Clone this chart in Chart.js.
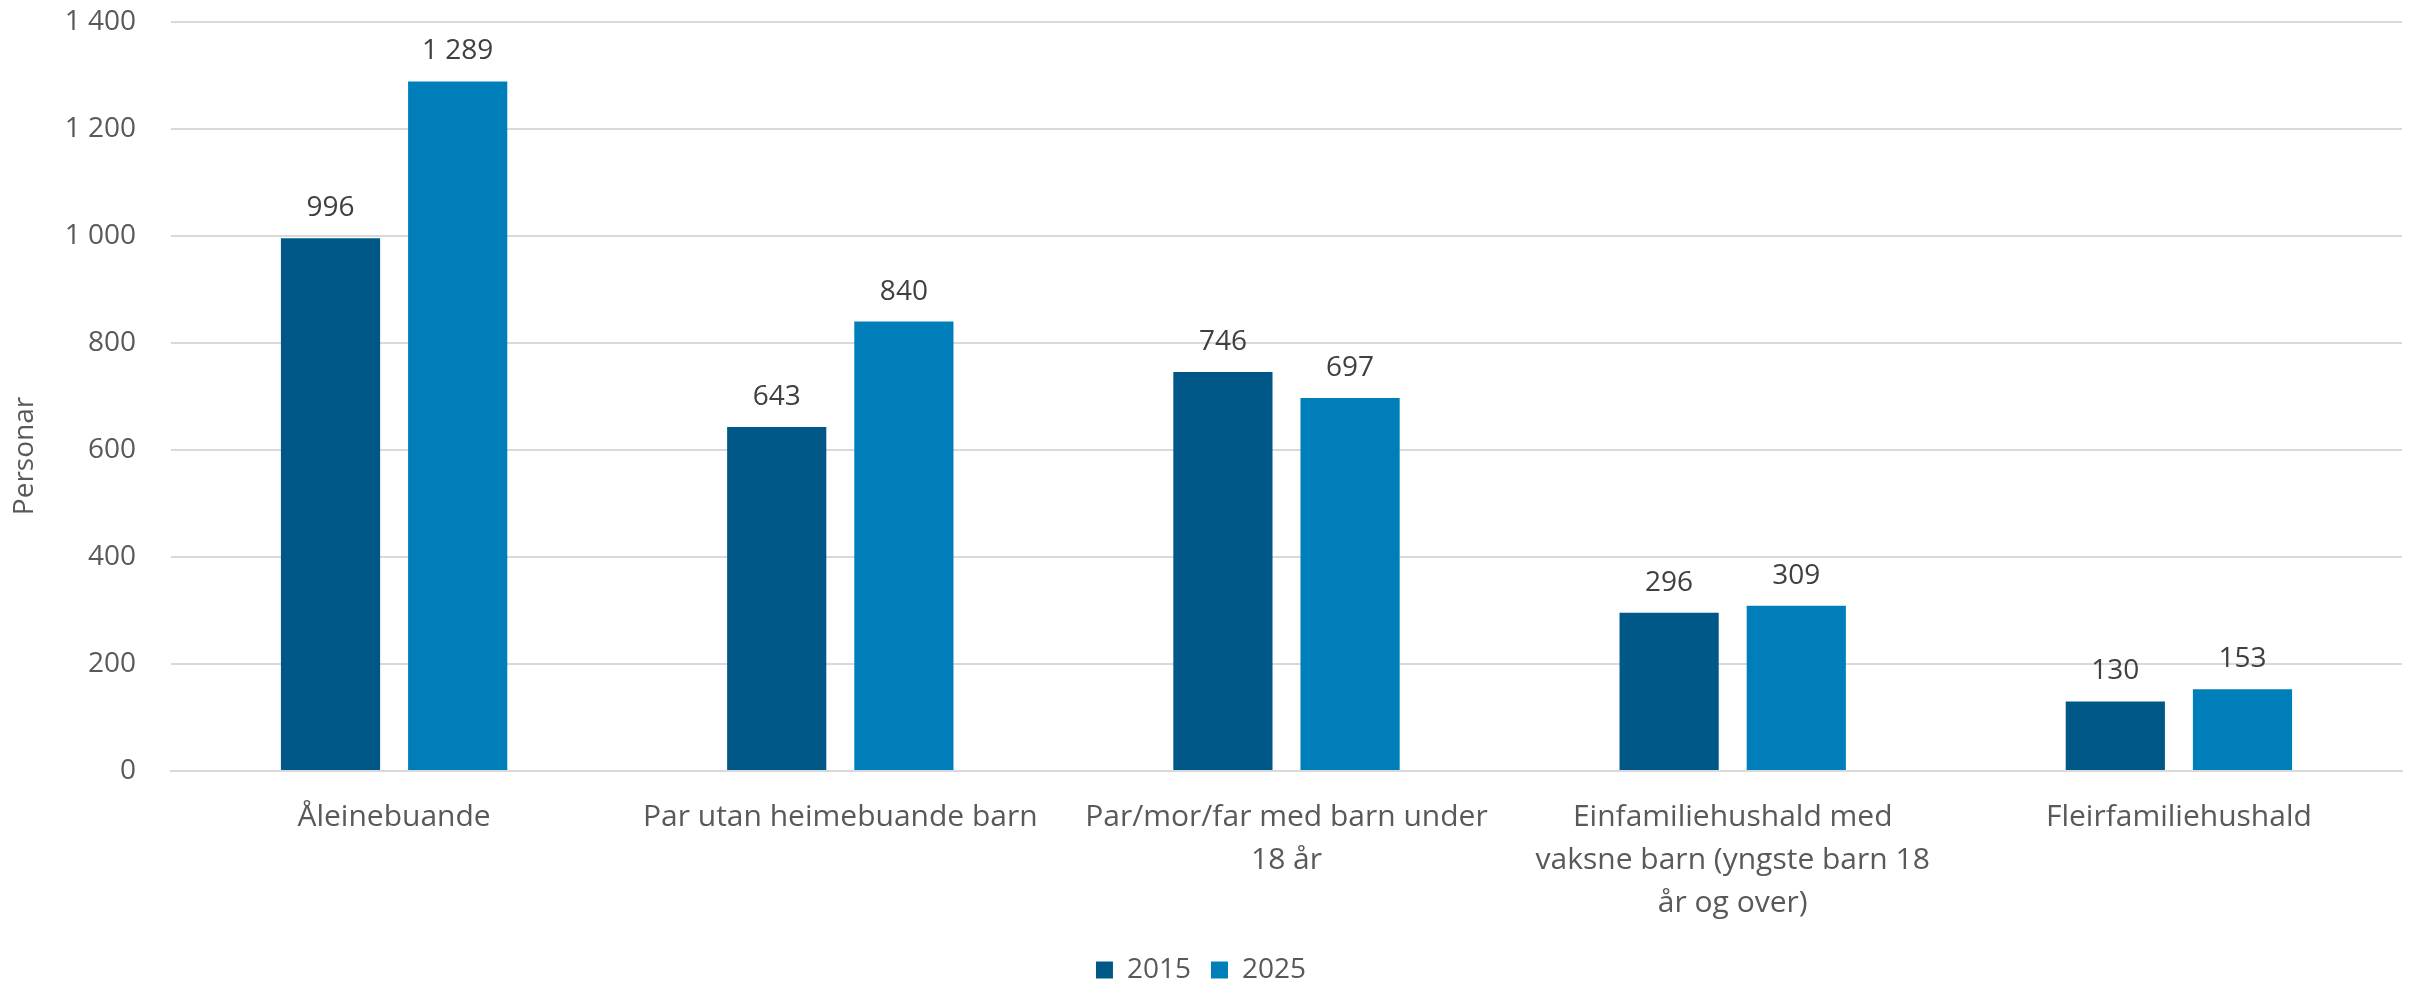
<!DOCTYPE html>
<html>
<head>
<meta charset="utf-8">
<script src="https://cdn.jsdelivr.net/npm/chart.js@4.4.1/dist/chart.umd.min.js"></script>
<style>
  html, body { margin: 0; padding: 0; background: #fff; }
  #wrap { width: 2418px; height: 983px; position: relative; }
</style>
</head>
<body>
<div id="wrap"><canvas id="hushald"></canvas></div>
<script>
// kategoriar og tal (personar)
const categories = [
    'Åleinebuande',
    'Par utan heimebuande barn',
    ['Par/mor/far med barn under', '18 år'],
    ['Einfamiliehushald med', 'vaksne barn (yngste barn 18', 'år og over)'],
    'Fleirfamiliehushald'
];
const values2015 = [996, 643, 746, 296, 130];
const values2025 = [1289, 840, 697, 309, 153];
const seriesNames = ['2015', '2025'];
const yTicks = [0, 200, 400, 600, 800, 1000, 1200, 1400];

const fmt = v => String(v).replace(/\B(?=(\d{3})+(?!\d))/g, ' ');

Chart.defaults.font.family = "'Open Sans', 'Noto Sans', sans-serif";
Chart.defaults.font.size = 28;
Chart.defaults.color = '#595959';

// verdiar over stolpane
const valueLabels = {
    id: 'valueLabels',
    afterDatasetsDraw(chart) {
        const ctx = chart.ctx;
        ctx.save();
        ctx.font = "28px 'Open Sans', 'Noto Sans', sans-serif";
        ctx.fillStyle = '#404040';
        ctx.textAlign = 'center';
        ctx.textBaseline = 'alphabetic';
        chart.data.datasets.forEach((ds, i) => {
            chart.getDatasetMeta(i).data.forEach((bar, j) => {
                ctx.fillText(fmt(ds.data[j]), bar.x, bar.y - 22);
            });
        });
        ctx.restore();
    }
};

// aksetittel litt under midten, som i originalen
const yTitle = {
    id: 'yTitle',
    afterDraw(chart) {
        const ctx = chart.ctx;
        ctx.save();
        ctx.font = "28px 'Open Sans', 'Noto Sans', sans-serif";
        ctx.fillStyle = '#595959';
        ctx.textAlign = 'center';
        ctx.textBaseline = 'middle';
        ctx.translate(25, 456);
        ctx.rotate(-Math.PI / 2);
        ctx.fillText('Personar', 0, 0);
        ctx.restore();
    }
};

new Chart(document.getElementById('hushald'), {
    type: 'bar',
    data: {
        labels: categories,
        datasets: [{
            label: seriesNames[0],
            data: values2015,
            backgroundColor: '#005889',
            categoryPercentage: 0.57,
            barPercentage: 0.78
        }, {
            label: seriesNames[1],
            data: values2025,
            backgroundColor: '#007EBA',
            categoryPercentage: 0.57,
            barPercentage: 0.78
        }]
    },
    options: {
        responsive: true,
        maintainAspectRatio: false,
        animation: false,
        layout: { padding: { top: 22, right: 16, bottom: -11, left: 0 } },
        plugins: {
            legend: {
                position: 'bottom',
                labels: { boxWidth: 17, boxHeight: 17, padding: 20, color: '#595959', font: { size: 28 } }
            },
            tooltip: { enabled: false }
        },
        scales: {
            y: {
                min: 0,
                max: 1400,
                afterBuildTicks: s => { s.ticks = yTicks.map(v => ({ value: v })); },
                afterFit: s => { s.width = 171; s.paddingTop = 0; s.paddingBottom = 0; },
                border: { display: false },
                grid: { color: '#d9d9d9', lineWidth: 2, drawTicks: false },
                ticks: { padding: 35, callback: v => fmt(v) }
            },
            x: {
                afterFit: s => { s.height = 165; },
                border: { color: '#d9d9d9', width: 2 },
                grid: { display: false },
                ticks: { padding: 17, maxRotation: 0, autoSkip: false, font: { size: 30, lineHeight: 1.43 } }
            }
        }
    },
    plugins: [valueLabels, yTitle]
});
</script>
</body>
</html>
